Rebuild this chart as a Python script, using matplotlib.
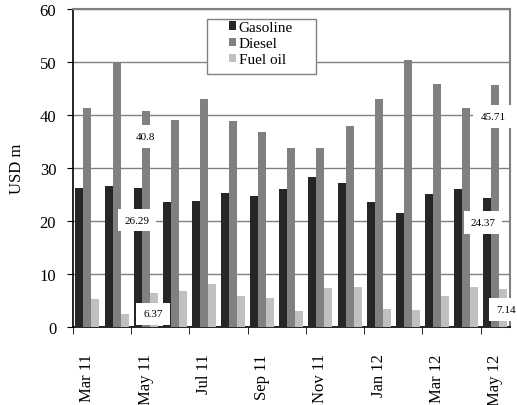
import numpy as np
import matplotlib
matplotlib.use("Agg")
from matplotlib import pyplot as plt
from matplotlib.patches import Rectangle

months = ["Mar 11", "Apr 11", "May 11", "Jun 11", "Jul 11", "Aug 11", "Sep 11", "Oct 11",
          "Nov 11", "Dec 11", "Jan 12", "Feb 12", "Mar 12", "Apr 12", "May 12"]
gasoline = [26.2, 26.6, 26.29, 23.6, 23.8, 25.3, 24.7, 26.0, 28.4, 27.2, 23.6, 21.6, 25.2, 26.0, 24.37]
diesel = [41.3, 49.9, 40.8, 39.1, 43.0, 38.8, 36.9, 33.7, 33.7, 37.9, 43.1, 50.4, 45.8, 41.4, 45.71]
fuel_oil = [5.3, 2.45, 6.37, 6.85, 8.1, 5.9, 5.5, 3.0, 7.3, 7.5, 3.5, 3.2, 5.85, 7.5, 7.14]

plt.rcParams['font.family'] = ['Liberation Serif', 'DejaVu Serif']

fig = plt.figure(figsize=(5.17, 4.06), dpi=100)
ax = fig.add_axes([0.141, 0.192, 0.845, 0.783])

x = np.arange(len(months))
w = 0.275
ax.bar(x - w, gasoline, w, color='#262626', label='Gasoline', zorder=3)
ax.bar(x, diesel, w, color='#808080', label='Diesel', zorder=3)
ax.bar(x + w, fuel_oil, w, color='#c0c0c0', label='Fuel oil', zorder=3)

ax.set_xlim(-0.5, len(months) - 0.5)
ax.set_ylim(0, 60)
ax.set_yticks(range(0, 61, 10))
ax.tick_params(axis='y', labelsize=12, direction='out', length=4, pad=8)
ax.yaxis.grid(True, color='#808080', linewidth=1, zorder=0)

# labels on every other month, ticks on category boundaries
ax.set_xticks(x[::2])
ax.set_xticklabels(months[::2], rotation=90, fontsize=12)
ax.tick_params(axis='x', length=0, pad=19)
ax.set_xticks(np.arange(-0.5, len(months), 2), minor=True)
ax.tick_params(axis='x', which='minor', length=5, direction='out')

ax.set_ylabel('USD m', fontsize=12)
ax.yaxis.set_label_coords(-0.11, 0.5)

for s in ['top', 'right']:
    ax.spines[s].set_color('#808080')
    ax.spines[s].set_linewidth(1.5)
for s in ['left', 'bottom']:
    ax.spines[s].set_color('black')
    ax.spines[s].set_linewidth(1.2)

# data labels with white boxes
box = dict(facecolor='white', edgecolor='none', pad=5)
labels = [(2, diesel[2], 0.0, -4.9), (2, gasoline[2], -0.3, -6.1), (2, fuel_oil[2], 0.25, -3.9),
          (14, diesel[14], -0.08, -5.9), (14, gasoline[14], -0.42, -4.6), (14, fuel_oil[14], 0.36, -3.9)]
for i, v, dx, dy in labels:
    ax.text(i + dx, v + dy, f"{v:g}", fontsize=8, ha='center', va='center', bbox=box, zorder=5,
            clip_on=False)

# legend frame drawn separately (Excel-like wide padding)
ax.add_patch(Rectangle((0.307, 0.796), 0.249, 0.173, transform=ax.transAxes, facecolor='white',
                       edgecolor='#808080', linewidth=1, zorder=6, clip_on=False))
leg = ax.legend(loc='upper left', bbox_to_anchor=(0.357, 0.962), fontsize=11, frameon=False,
                handlelength=0.5, handleheight=0.5, handletextpad=0.15, borderpad=0,
                labelspacing=0.2, borderaxespad=0)
leg.set_zorder(7)

plt.savefig("out.png", dpi=100)
